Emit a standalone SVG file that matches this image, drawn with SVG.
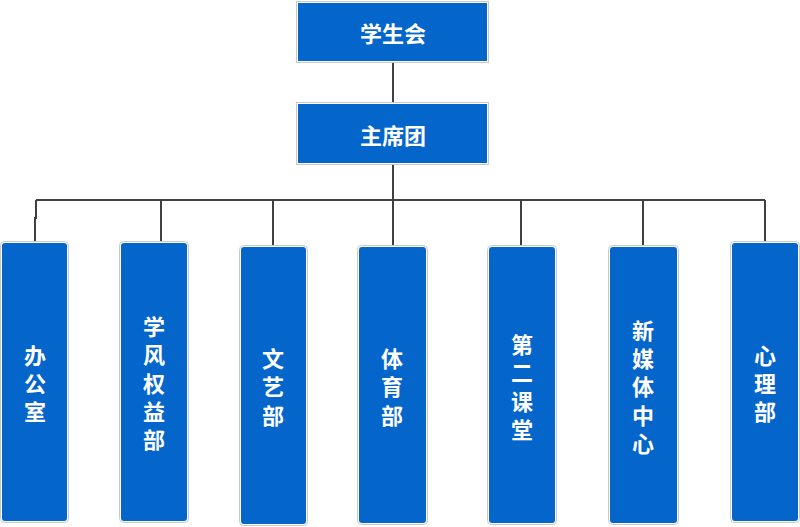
<svg xmlns="http://www.w3.org/2000/svg" width="800" height="527" viewBox="0 0 800 527">
<style>
.o{fill:#fff;stroke:#c9c9c9;stroke-width:1}
.b{fill:#0465CB}
.t{fill:#fff;font-family:"Noto Sans CJK SC","Noto Sans",sans-serif;font-weight:bold;font-size:22px;text-anchor:middle;dominant-baseline:central}
.c{fill:none;stroke:#404040;stroke-width:2}
</style>
<rect width="800" height="527" fill="#fff"/>
<g id="connectors">
<path class="c" d="M393 62V102M393 165V200M36 200H765M36 200V218H35V242M161 200V242M273 200V246M393 200V246M521 200V246M643 200V246M765 200V242"/>
</g>
<g id="n-xsh"><rect class="o" x="296.5" y="1.5" width="192" height="61"/><rect class="b" x="298" y="3" width="189" height="58"/><text class="t" x="393" y="32">学生会</text></g>
<g id="n-zxt"><rect class="o" x="296.5" y="102.5" width="192" height="62"/><rect class="b" x="298" y="104" width="189" height="59"/><text class="t" x="393" y="134">主席团</text></g>
<g id="n-bgs"><rect class="o" x="0.5" y="241.5" width="68" height="281" rx="4"/><rect class="b" x="2" y="243" width="65" height="278" rx="3"/><text class="t" x="35"><tspan x="35" y="354">办</tspan><tspan x="35" y="382">公</tspan><tspan x="35" y="410">室</tspan></text></g>
<g id="n-xfqy"><rect class="o" x="119.5" y="241.5" width="69" height="281" rx="4"/><rect class="b" x="121" y="243" width="66" height="278" rx="3"/><text class="t" x="154"><tspan x="154" y="325">学</tspan><tspan x="154" y="353">风</tspan><tspan x="154" y="382">权</tspan><tspan x="154" y="410">益</tspan><tspan x="154" y="438">部</tspan></text></g>
<g id="n-wyb"><rect class="o" x="239.5" y="245.5" width="68" height="280" rx="4"/><rect class="b" x="241" y="247" width="65" height="277" rx="3"/><text class="t" x="273"><tspan x="273" y="357">文</tspan><tspan x="273" y="385">艺</tspan><tspan x="273" y="414">部</tspan></text></g>
<g id="n-tyb"><rect class="o" x="357.5" y="245.5" width="70" height="279" rx="4"/><rect class="b" x="359" y="247" width="67" height="276" rx="3"/><text class="t" x="392"><tspan x="392" y="357">体</tspan><tspan x="392" y="385">育</tspan><tspan x="392" y="414">部</tspan></text></g>
<g id="n-dekt"><rect class="o" x="487.5" y="245.5" width="69" height="279" rx="4"/><rect class="b" x="489" y="247" width="66" height="276" rx="3"/><text class="t" x="522"><tspan x="522" y="343">第</tspan><tspan x="522" y="371">二</tspan><tspan x="522" y="400">课</tspan><tspan x="522" y="428">堂</tspan></text></g>
<g id="n-xmtzx"><rect class="o" x="608.5" y="245.5" width="70" height="279" rx="4"/><rect class="b" x="610" y="247" width="67" height="276" rx="3"/><text class="t" x="643"><tspan x="643" y="329">新</tspan><tspan x="643" y="357">媒</tspan><tspan x="643" y="385">体</tspan><tspan x="643" y="414">中</tspan><tspan x="643" y="442">心</tspan></text></g>
<g id="n-xlb"><rect class="o" x="730.5" y="241.5" width="69" height="281" rx="4"/><rect class="b" x="732" y="243" width="66" height="278" rx="3"/><text class="t" x="765"><tspan x="765" y="354">心</tspan><tspan x="765" y="382">理</tspan><tspan x="765" y="410">部</tspan></text></g>
</svg>
